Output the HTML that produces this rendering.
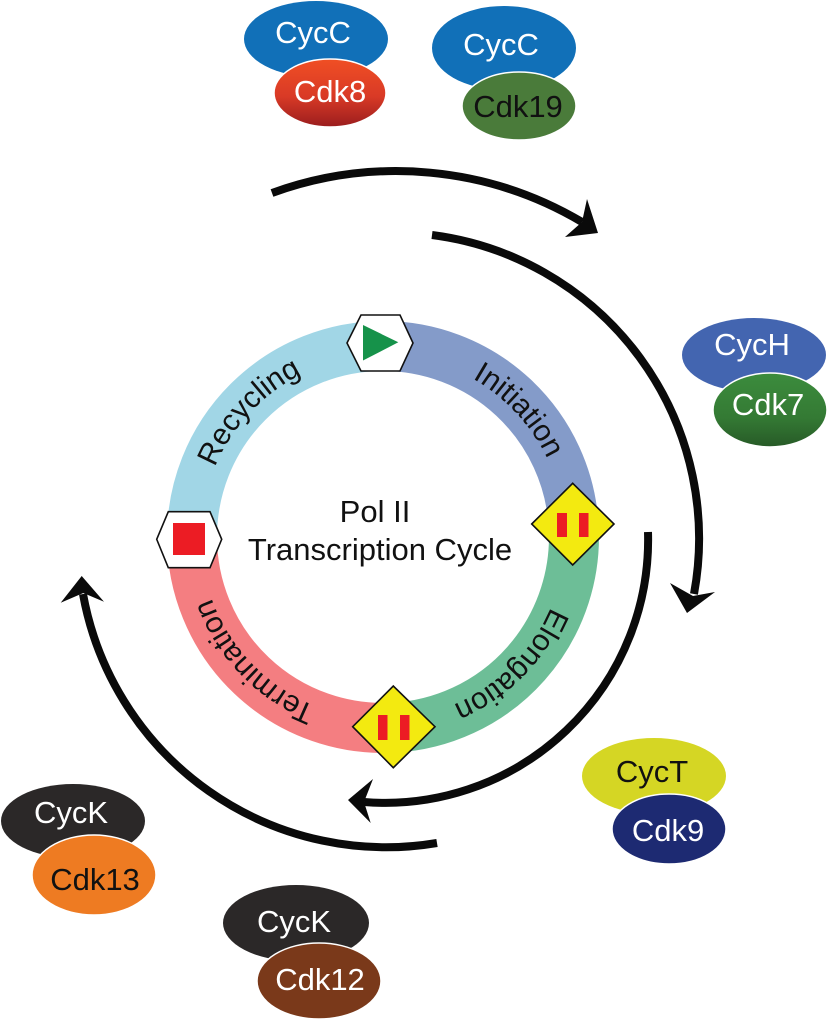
<!DOCTYPE html>
<html>
<head>
<meta charset="utf-8">
<style>
html,body{margin:0;padding:0;background:#fff;}
svg{display:block;}
text{font-family:"Liberation Sans",Arial,sans-serif;}
</style>
</head>
<body>
<svg width="828" height="1024" viewBox="0 0 828 1024" xmlns="http://www.w3.org/2000/svg">
<defs>
  <linearGradient id="gCdk8" x1="0" y1="0" x2="0" y2="1">
    <stop offset="0" stop-color="#f04f24"/>
    <stop offset="0.55" stop-color="#d93a26"/>
    <stop offset="1" stop-color="#9a1d1e"/>
  </linearGradient>
  <linearGradient id="gCdk7" x1="0" y1="0" x2="0" y2="1">
    <stop offset="0" stop-color="#3c8c3d"/>
    <stop offset="0.6" stop-color="#347a34"/>
    <stop offset="1" stop-color="#275a27"/>
  </linearGradient>
  <path id="pRec" d="M220.8,619.6 A182,182 0 0 1 454.1,369.5" fill="none"/>
  <path id="pIni" d="M311.9,369.5 A182,182 0 0 1 545.2,619.6" fill="none"/>
  <path id="pElo" d="M547.9,460.1 A182,182 0 0 1 306.1,701.9" fill="none"/>
  <path id="pTer" d="M457.0,703.3 A182,182 0 0 1 219.4,457.2" fill="none"/>
</defs>

<!-- Ring segments -->
<g fill="none" stroke-width="50">
  <path d="M192,537 A191,191 0 0 1 383,346" stroke="#a1d6e6"/>
  <path d="M383,346 A191,191 0 0 1 573.5,523.7" stroke="#849bc9"/>
  <path d="M573.5,523.7 A191,191 0 0 1 393,727.7" stroke="#6dbe97"/>
  <path d="M393,727.7 A191,191 0 0 1 192,537" stroke="#f47e81"/>
</g>

<!-- Ring labels -->
<g font-size="30" fill="#111">
  <text><textPath href="#pRec" startOffset="50%" text-anchor="middle">Recycling</textPath></text>
  <text><textPath href="#pIni" startOffset="50%" text-anchor="middle">Initiation</textPath></text>
  <text><textPath href="#pElo" startOffset="50%" text-anchor="middle">Elongation</textPath></text>
  <text><textPath href="#pTer" startOffset="50%" text-anchor="middle">Termination</textPath></text>
</g>

<!-- Markers -->
<polygon points="347,343 361,315 400,315 413,343 400,371 361,371" fill="#fff" stroke="#111" stroke-width="1.6"/>
<polygon points="363,325 363,360.5 398.3,342.3" fill="#16924a"/>

<polygon points="156.7,539.3 168.3,511.7 210,511.7 221.7,539.3 210,567.7 168.3,567.7" fill="#fff" stroke="#111" stroke-width="1.6"/>
<rect x="173" y="523" width="32" height="32" fill="#ec1c24"/>

<polygon points="531.7,524 572.7,483.3 614,524 572.7,565" fill="#f3ea10" stroke="#111" stroke-width="1.6"/>
<rect x="557" y="513" width="10" height="24" fill="#ec1c24"/>
<rect x="579" y="513" width="9.5" height="24" fill="#ec1c24"/>

<polygon points="352.7,726.7 393.3,686 435,726.7 393.3,767.7" fill="#f3ea10" stroke="#111" stroke-width="1.6"/>
<rect x="378" y="715" width="9.5" height="25" fill="#ec1c24"/>
<rect x="400" y="715" width="9.5" height="25" fill="#ec1c24"/>

<!-- Center text -->
<g font-size="31" fill="#111" text-anchor="middle">
  <text x="375" y="522">Pol II</text>
  <text x="380" y="560">Transcription Cycle</text>
</g>

<!-- Arrows -->
<g fill="none" stroke="#0a0a0a" stroke-width="8">
  <path d="M272,193 A364,364 0 0 1 582,222"/>
  <path d="M432,235 A306,306 0 0 1 694,594"/>
  <path d="M648,532 A263,263 0 0 1 364,802"/>
  <path d="M437,843 A308,308 0 0 1 83,594"/>
</g>
<g fill="#0a0a0a">
  <polygon points="598,233 587,199 582,222 565,237"/>
  <polygon points="687,613 670,583 693,596 715,592"/>
  <polygon points="348,800 373,779 364,802 370.7,823"/>
  <polygon points="81.7,576 60.7,602.7 83.3,593 104,601.7"/>
</g>

<!-- Complexes -->
<g font-size="31" text-anchor="middle">
  <ellipse cx="316" cy="39" rx="72" ry="38" fill="#1170b8"/>
  <text x="313" y="43" fill="#fff">CycC</text>
  <ellipse cx="330" cy="93" rx="56" ry="34" fill="url(#gCdk8)" stroke="#fff" stroke-width="1.5"/>
  <text x="330" y="102" fill="#fff">Cdk8</text>

  <ellipse cx="504" cy="48" rx="72" ry="42" fill="#1170b8"/>
  <text x="501" y="55" fill="#fff">CycC</text>
  <ellipse cx="519" cy="106" rx="57" ry="34" fill="#4a7b3a" stroke="#fff" stroke-width="1.5"/>
  <text x="518" y="117" fill="#111">Cdk19</text>

  <ellipse cx="754" cy="355" rx="72" ry="37" fill="#4365b0"/>
  <text x="752" y="355" fill="#fff">CycH</text>
  <ellipse cx="770" cy="410" rx="57" ry="37" fill="url(#gCdk7)" stroke="#fff" stroke-width="1.5"/>
  <text x="768" y="415" fill="#fff">Cdk7</text>

  <ellipse cx="654" cy="776" rx="72" ry="38" fill="#d5d624"/>
  <text x="652" y="782" fill="#111">CycT</text>
  <ellipse cx="669" cy="829" rx="57" ry="35" fill="#1d2a72" stroke="#fff" stroke-width="1.5"/>
  <text x="668" y="841" fill="#fff">Cdk9</text>

  <ellipse cx="73" cy="821" rx="72" ry="37" fill="#2b2828"/>
  <text x="71" y="823" fill="#fff">CycK</text>
  <ellipse cx="94" cy="875" rx="62" ry="40" fill="#ee7b22" stroke="#fff" stroke-width="1.5"/>
  <text x="95" y="890" fill="#111">Cdk13</text>

  <ellipse cx="296" cy="923" rx="73" ry="38" fill="#2b2828"/>
  <text x="294" y="932" fill="#fff">CycK</text>
  <ellipse cx="319" cy="981" rx="62" ry="38" fill="#7a391a" stroke="#fff" stroke-width="1.5"/>
  <text x="320" y="990" fill="#fff">Cdk12</text>
</g>
</svg>
</body>
</html>
